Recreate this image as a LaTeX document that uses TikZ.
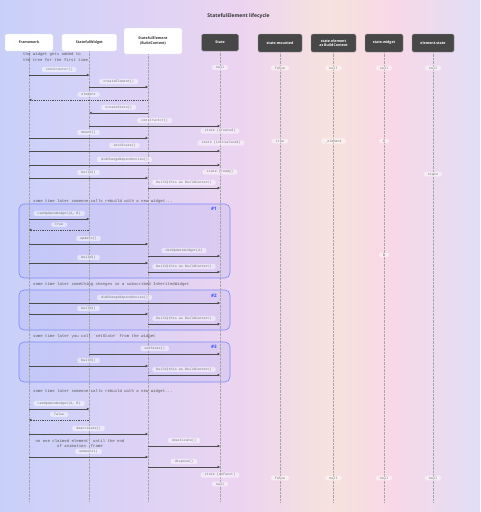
\documentclass[tikz,border=0pt]{standalone}
\usepackage{fontspec}
\setmainfont{Open Sans}
\newfontfamily\monof{Liberation Mono}
\usetikzlibrary{arrows.meta}
\definecolor{bgA}{RGB}{200,208,250}
\definecolor{bgB}{RGB}{218,210,246}
\definecolor{bgC}{RGB}{236,212,240}
\definecolor{bgD}{RGB}{246,226,222}
\definecolor{bgE}{RGB}{249,216,230}
\definecolor{bgF}{RGB}{224,222,247}
\definecolor{blobc}{RGB}{125,138,245}
\definecolor{tagc}{RGB}{50,80,250}
\tikzset{
  hdr/.style={fill=white,draw=black!12,line width=0.4pt,rounded corners=1.5pt,align=center,text=black!80,
    font=\bfseries\fontsize{3.6}{4.4}\selectfont,inner sep=1pt},
  hdrd/.style={hdr,fill=black!72,draw=black!40,text=white},
  life/.style={draw=black!35,dash pattern=on 0.6pt off 0.8pt,line width=0.35pt},
  msg/.style={draw=black!70,line width=0.6pt,-{Triangle[length=2.4pt,width=2.4pt]}},
  ret/.style={msg,dash pattern=on 1pt off 0.8pt},
  lbl/.style={fill=white,fill opacity=0.5,text opacity=1,text=black!55,rounded corners=1.5pt,
    inner xsep=4pt,inner ysep=1.1pt,font=\monof\fontsize{3.4}{3.8}\selectfont},
  note/.style={text=black!65,inner sep=0pt,font=\monof\fontsize{4}{5.6}\selectfont},
  blob/.style={draw=blobc,fill=blobc,fill opacity=0.12,line width=0.6pt,rounded corners=5pt},
  tag/.style={text=tagc,font=\bfseries\fontsize{4.6}{5}\selectfont,inner sep=0pt}
}
\newcommand\mymsg[5][msg]{\draw[#1] (#2 |- 0,#4) -- node[lbl,yshift=5.5pt]{#5} (#3 |- 0,#4);}
\newcommand\myval[3]{\node[lbl] at (#1 |- 0,#2) {#3};}
\begin{document}
\begin{tikzpicture}[x=1pt,y=-1pt]
\useasboundingbox (0,0) rectangle (480,512);
% background
\shade[left color=bgA,right color=bgB] (0,0) rectangle (120.5,512);
\shade[left color=bgB,right color=bgC] (120,0) rectangle (240.5,512);
\shade[left color=bgC,right color=bgD] (240,0) rectangle (330.5,512);
\shade[left color=bgD,right color=bgE] (330,0) rectangle (390.5,512);
\shade[left color=bgE,right color=bgF] (390,0) rectangle (480,512);
% title
\node[font=\bfseries\fontsize{5}{6}\selectfont,text=black!80] (title) at (238.5,16) {StatefulElement lifecycle};
% headers
\node[hdr,minimum width=48,minimum height=17] (fw) at (29,42.5) {Framework};
\node[hdr,minimum width=55,minimum height=17] (sw) at (89.3,42.5) {StatefulWidget};
\node[hdr,minimum width=58,minimum height=26] (se) at (153,41) {StatefulElement\\(BuildContext)};
\node[hdrd,minimum width=37,minimum height=17] (st) at (220,42.5) {State};
\node[hdrd,minimum width=44,minimum height=18] (sm) at (280,43) {state.mounted};
\node[hdrd,minimum width=45,minimum height=18] (sel) at (333.5,43) {state.element\\as BuildContext};
\node[hdrd,minimum width=38,minimum height=18] (swg) at (384,43) {state.widget};
\node[hdrd,minimum width=42,minimum height=18] (es) at (433,43) {element.state};
% lifeline anchors
\coordinate (Lfw) at (fw.south);
\coordinate (Lsw) at (sw.south);
\coordinate (Lse) at ([xshift=-5pt]se.south);
\coordinate (Lst) at (st.south);
\coordinate (Lsm) at (sm.south);
\coordinate (Lsel) at (sel.south);
\coordinate (Lswg) at (swg.south);
\coordinate (Les) at (es.south);
% boxes
\draw[blob] (19,204) rectangle (230,278);
\draw[blob] (19,290) rectangle (230,330);
\draw[blob] (19,342) rectangle (230,382);
\node[tag] (t1) at (214,209) {\#1};
\node[tag] (t2) at (214,296) {\#2};
\node[tag] (t3) at (214,347) {\#3};
% lifelines
\foreach \n in {Lfw,Lsw,Lse,Lst,Lsm,Lsel,Lswg,Les}{\draw[life] (\n) -- (\n |- 0,502);}
% notes
\node[note,anchor=north west,align=left] (n0) at (23,52.5) {the widget gets added to\\the tree for the first time};
\node[note,anchor=west] (n1) at (33,201) {some time later someone calls rebuild with a new widget...};
\node[note,anchor=west] (n2) at (33,284) {some time later something changes in a subscribed InheritedWidget};
\node[note,anchor=west] (n3) at (33,336) {some time later you call `setState` from the widget};
\node[note,anchor=west] (n4) at (33,391) {some time later someone calls rebuild with a new widget...};
\node[note,align=center] (n5) at (80,443.5) {no one claimed element \ until the end\\of animation \ frame};
% initial values
\myval{Lst}{67.5}{null}
\myval{Lsm}{68}{false}
\myval{Lsel}{68}{null}
\myval{Lswg}{68}{null}
\myval{Les}{68}{null}
% messages
\mymsg{Lfw}{Lsw}{75}{constructor()}
\mymsg{Lsw}{Lse}{87}{createElement()}
\mymsg[ret]{Lse}{Lfw}{100}{element}
\mymsg{Lse}{Lsw}{113}{createState()}
\mymsg{Lsw}{Lst}{126}{constructor()}
\myval{Lst}{131}{state (created)}
\mymsg{Lfw}{Lse}{138}{mount()}
\node[lbl] at ([xshift=1pt]Lst |- 0,143) {state (initialized)};
\myval{Lsm}{141}{true}
\myval{Lsel}{141}{\_element}
\myval{Lswg}{141}{A}
\mymsg{Lfw}{Lst}{151}{initState()}
\mymsg{Lfw}{Lst}{165}{didChangeDependencies()}
\myval{Lst}{172}{state (ready)}
\myval{Les}{174}{state}
\mymsg{Lfw}{Lse}{178}{build()}
\mymsg{Lse}{Lst}{188}{build(this as BuildContext)}
% #1
\mymsg{Lfw}{Lsw}{219}{canUpdateWidget(A, B)}
\mymsg[ret]{Lsw}{Lfw}{230}{true}
\mymsg{Lfw}{Lse}{244}{update()}
\mymsg{Lse}{Lst}{256}{didUpdateWidget(A)}
\myval{Lswg}{255}{B}
\mymsg{Lfw}{Lse}{263}{build()}
\mymsg{Lse}{Lst}{272}{build(this as BuildContext)}
% #2
\mymsg{Lfw}{Lst}{303}{didChangeDependencies()}
\mymsg{Lfw}{Lse}{314}{build()}
\mymsg{Lse}{Lst}{324}{build(this as BuildContext)}
% #3
\mymsg{Lsw}{Lst}{354}{setState()}
\mymsg{Lfw}{Lse}{366}{build()}
\mymsg{Lse}{Lst}{375}{build(this as BuildContext)}
% end
\mymsg{Lfw}{Lsw}{409}{canUpdateWidget(A, B)}
\mymsg[ret]{Lsw}{Lfw}{420}{false}
\mymsg{Lfw}{Lse}{434}{deactivate()}
\mymsg{Lse}{Lst}{446}{deactivate()}
\mymsg{Lfw}{Lse}{457}{unmount()}
\mymsg{Lse}{Lst}{467}{dispose()}
\myval{Lst}{475}{state (defunct)}
\myval{Lst}{484}{null}
\myval{Lsm}{478}{false}
\myval{Lsel}{478}{null}
\myval{Lswg}{478}{null}
\myval{Les}{478}{null}
\end{tikzpicture}
\end{document}
